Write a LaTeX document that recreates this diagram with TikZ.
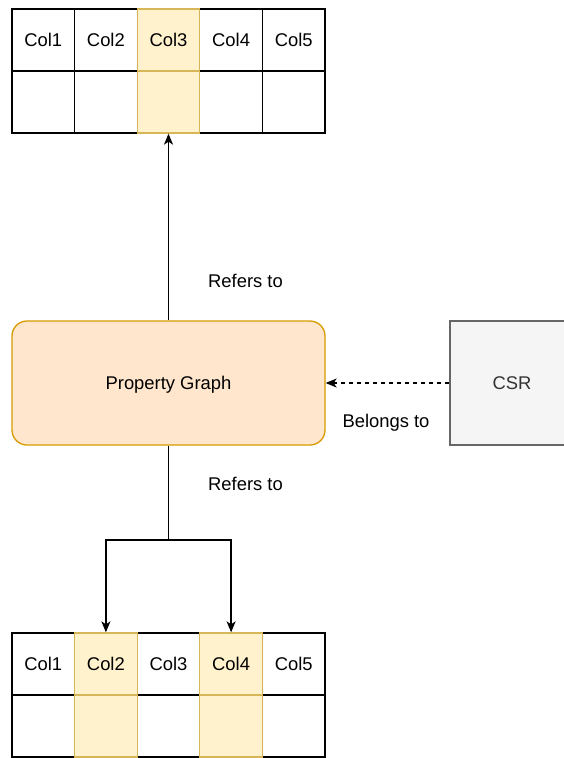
\documentclass[tikz,border=0pt]{standalone}
\usepackage{fontspec}
\setmainfont{Liberation Sans}
\usetikzlibrary{arrows.meta}
\definecolor{hlfill}{HTML}{FFF2CC}
\definecolor{hldraw}{HTML}{D6B656}
\definecolor{pgfill}{HTML}{FFE6CC}
\definecolor{pgdraw}{HTML}{D79B00}
\definecolor{csrfill}{HTML}{F5F5F5}
\definecolor{csrdraw}{HTML}{666666}
\definecolor{csrtext}{HTML}{333333}
\tikzset{
  txt/.style={font=\fontsize{18.4}{22}\selectfont, text height=13.2pt, text depth=0pt},
  cell/.style={txt, draw=black, fill=white, line width=1.3pt, minimum width=62.6pt, minimum height=62pt, inner sep=0pt},
  hlcell/.style={cell, draw=hldraw, fill=hlfill},
  lbl/.style={txt, inner sep=0pt},
  conn/.style={line width=1.4pt, -{Stealth[length=11pt,width=9pt,inset=3pt]}},
}
\begin{document}
\begin{tikzpicture}[x=1pt,y=-1pt]
\useasboundingbox (0,0) rectangle (564,758);
% top table
\node[cell] (t1h) at (43.3,40) {Col1};
\node[cell] (t2h) at (105.9,40) {Col2};
\node[cell] (t4h) at (231.1,40) {Col4};
\node[cell] (t5h) at (293.7,40) {Col5};
\node[cell] (t1b) at (43.3,102) {};
\node[cell] (t2b) at (105.9,102) {};
\node[cell] (t4b) at (231.1,102) {};
\node[cell] (t5b) at (293.7,102) {};
\node[hlcell] (t3h) at (168.5,40) {Col3};
\node[hlcell] (t3b) at (168.5,102) {};
% bottom table
\node[cell] (b1h) at (43.3,664) {Col1};
\node[cell] (b3h) at (168.5,664) {Col3};
\node[cell] (b5h) at (293.7,664) {Col5};
\node[cell] (b1b) at (43.3,726) {};
\node[cell] (b3b) at (168.5,726) {};
\node[cell] (b5b) at (293.7,726) {};
\node[hlcell] (b2h) at (105.9,664) {Col2};
\node[hlcell] (b4h) at (231.1,664) {Col4};
\node[hlcell] (b2b) at (105.9,726) {};
\node[hlcell] (b4b) at (231.1,726) {};
% property graph
\node[txt, draw=pgdraw, fill=pgfill, line width=1.3pt, rounded corners=15pt, minimum width=313pt, minimum height=124pt, inner sep=0pt] (pg) at (168.5,383) {Property Graph};
% CSR
\node[txt, draw=csrdraw, fill=csrfill, line width=1.3pt, minimum width=124pt, minimum height=124pt, inner sep=0pt, text=csrtext] (csr) at (512,383) {CSR};
% connectors
\draw[conn] (pg.north) -- (t3b.south);
\coordinate (split) at (168.5,540);
\draw[line width=1.4pt] (pg.south) -- (split);
\draw[conn] (split) -| (b2h.north);
\draw[conn] (split) -| (b4h.north);
\draw[conn, dash pattern=on 4pt off 4pt] (csr.west) -- (pg.east);
% labels
\node[lbl] (l1) at (245.5,281) {Refers to};
\node[lbl] (l2) at (386,421) {Belongs to};
\node[lbl] (l3) at (245.5,484) {Refers to};
\end{tikzpicture}
\end{document}
